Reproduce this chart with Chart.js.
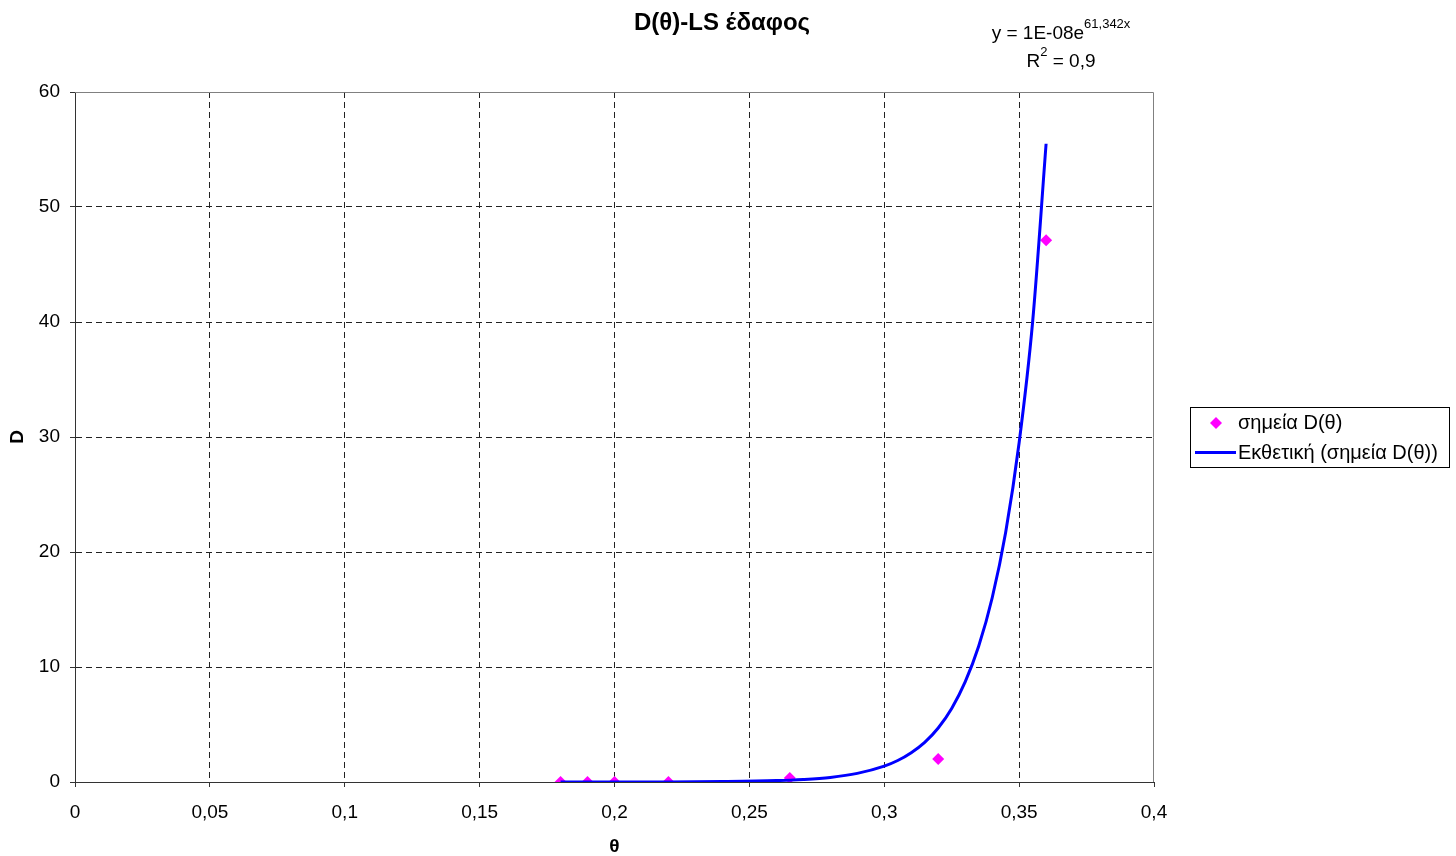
<!DOCTYPE html>
<html lang="el">
<head>
<meta charset="UTF-8">
<title>D(θ)-LS έδαφος</title>
<script src="https://cdn.jsdelivr.net/npm/chart.js@4.4.0/dist/chart.umd.min.js"></script>
<style>
    body { margin: 0; background: #fff; }
    #wrap { width: 1456px; height: 856px; }
</style>
</head>
<body>
<div id="wrap"><canvas id="chart" width="1456" height="856"></canvas></div>
<script>
// measured points D(θ)
const thetaValues = [0.18, 0.19, 0.2, 0.22, 0.265, 0.32, 0.36];
const dValues = [0, 0, 0, 0, 0.35, 2.0, 47.1];

// exponential trendline
const trendTheta = [0.18, 0.2, 0.22, 0.24, 0.26, 0.27, 0.28, 0.29, 0.3, 0.305, 0.31, 0.315, 0.32, 0.325, 0.33, 0.335, 0.34, 0.345, 0.35, 0.355, 0.36];
const trendD = [0, 0.01, 0.01, 0.04, 0.12, 0.22, 0.4, 0.75, 1.38, 1.87, 2.55, 3.45, 4.7, 6.4, 8.7, 11.8, 16, 21.7, 29.5, 40, 55.5];

const pointsLabel = 'σημεία D(θ)';
const trendLabel = 'Εκθετική (σημεία D(θ))';
const chartTitle = 'D(θ)-LS έδαφος';

const FONT = '"Liberation Sans", Arial, sans-serif';

const fmt = v => String(Math.round(v * 100) / 100).replace('.', ',');
// hide the dashed line at the far edge, the frame is drawn there instead
const gridColor = c => (c.index === c.scale.ticks.length - 1 ? 'rgba(0,0,0,0)' : '#222');

// title, trend equation, frame and boxed legend
const decorations = {
    id: 'decorations',
    beforeDatasetsDraw(chart) {
        const ctx = chart.ctx, a = chart.chartArea;
        ctx.save();
        ctx.strokeStyle = '#808080';
        ctx.lineWidth = 1;
        ctx.beginPath();
        ctx.moveTo(a.left, a.top + 0.5);
        ctx.lineTo(a.right - 0.5, a.top + 0.5);
        ctx.lineTo(a.right - 0.5, a.bottom);
        ctx.stroke();
        ctx.restore();
    },
    afterDraw(chart) {
        const ctx = chart.ctx;
        ctx.save();
        ctx.fillStyle = '#000';
        ctx.textBaseline = 'alphabetic';

        // title
        ctx.font = 'bold 24px ' + FONT;
        ctx.textAlign = 'center';
        ctx.fillText(chartTitle, 722, 30);

        // equation y = 1E-08e^61,342x
        ctx.textAlign = 'left';
        const base = 'y = 1E-08e', sup = '61,342x';
        ctx.font = '19px ' + FONT;
        const w1 = ctx.measureText(base).width;
        ctx.font = '13px ' + FONT;
        const w2 = ctx.measureText(sup).width;
        let x = 1061 - (w1 + w2) / 2;
        ctx.font = '19px ' + FONT;
        ctx.fillText(base, x, 39);
        ctx.font = '13px ' + FONT;
        ctx.fillText(sup, x + w1, 28);

        // R^2 = 0,9
        ctx.font = '19px ' + FONT;
        const r1 = ctx.measureText('R').width;
        const r3 = ctx.measureText(' = 0,9').width;
        ctx.font = '13px ' + FONT;
        const r2 = ctx.measureText('2').width;
        x = 1061 - (r1 + r2 + r3) / 2;
        ctx.font = '19px ' + FONT;
        ctx.fillText('R', x, 67);
        ctx.fillText(' = 0,9', x + r1 + r2, 67);
        ctx.font = '13px ' + FONT;
        ctx.fillText('2', x + r1, 56);

        // legend box
        ctx.strokeStyle = '#000';
        ctx.lineWidth = 1;
        ctx.strokeRect(1190.5, 407.5, 259, 60);

        ctx.fillStyle = '#ff00ff';
        ctx.beginPath();
        ctx.moveTo(1216, 417);
        ctx.lineTo(1222, 423);
        ctx.lineTo(1216, 429);
        ctx.lineTo(1210, 423);
        ctx.closePath();
        ctx.fill();

        ctx.strokeStyle = '#0000ff';
        ctx.lineWidth = 3;
        ctx.beginPath();
        ctx.moveTo(1195, 452.5);
        ctx.lineTo(1236, 452.5);
        ctx.stroke();

        ctx.fillStyle = '#000';
        ctx.font = '20px ' + FONT;
        ctx.textBaseline = 'middle';
        ctx.fillText(pointsLabel, 1238, 423);
        ctx.fillText(trendLabel, 1238, 453);
        ctx.restore();
    }
};

new Chart(document.getElementById('chart'), {
    type: 'scatter',
    data: {
        datasets: [
            {
                label: trendLabel,
                data: trendTheta.map((t, i) => ({ x: t, y: trendD[i] })),
                showLine: true,
                borderColor: '#0000ff',
                borderWidth: 3,
                pointRadius: 0,
                cubicInterpolationMode: 'monotone',
                order: 0
            },
            {
                label: pointsLabel,
                data: thetaValues.map((t, i) => ({ x: t, y: dValues[i] })),
                pointStyle: 'rectRot',
                pointRadius: 6,
                pointBackgroundColor: '#ff00ff',
                pointBorderWidth: 0,
                order: 1
            }
        ]
    },
    options: {
        responsive: false,
        animation: false,
        layout: { padding: { top: 92, right: 302, left: 0, bottom: 0 } },
        plugins: {
            legend: { display: false },
            title: { display: false },
            tooltip: { enabled: false }
        },
        scales: {
            x: {
                type: 'linear',
                min: 0,
                max: 0.4,
                afterFit: s => { s.height = 74; },
                ticks: {
                    stepSize: 0.05,
                    color: '#000',
                    padding: 14,
                    font: { family: FONT, size: 19 },
                    callback: fmt
                },
                grid: { color: gridColor, tickLength: 5, tickColor: '#333' },
                border: { color: '#333', dash: [6, 4] },
                title: {
                    display: true,
                    text: 'θ',
                    color: '#000',
                    font: { family: FONT, size: 19, weight: 'bold', lineHeight: 1.0 },
                    padding: { top: 0, bottom: 0 }
                }
            },
            y: {
                min: 0,
                max: 60,
                afterFit: s => { s.width = 75; },
                ticks: {
                    stepSize: 10,
                    color: '#000',
                    padding: 10,
                    font: { family: FONT, size: 19 },
                    callback: fmt
                },
                grid: { color: gridColor, tickLength: 5, tickColor: '#333' },
                border: { color: '#333', dash: [6, 4] },
                title: {
                    display: true,
                    text: 'D',
                    color: '#000',
                    font: { family: FONT, size: 19, weight: 'bold' },
                    padding: { top: 6, bottom: 0 }
                }
            }
        }
    },
    plugins: [decorations]
});
</script>
</body>
</html>
